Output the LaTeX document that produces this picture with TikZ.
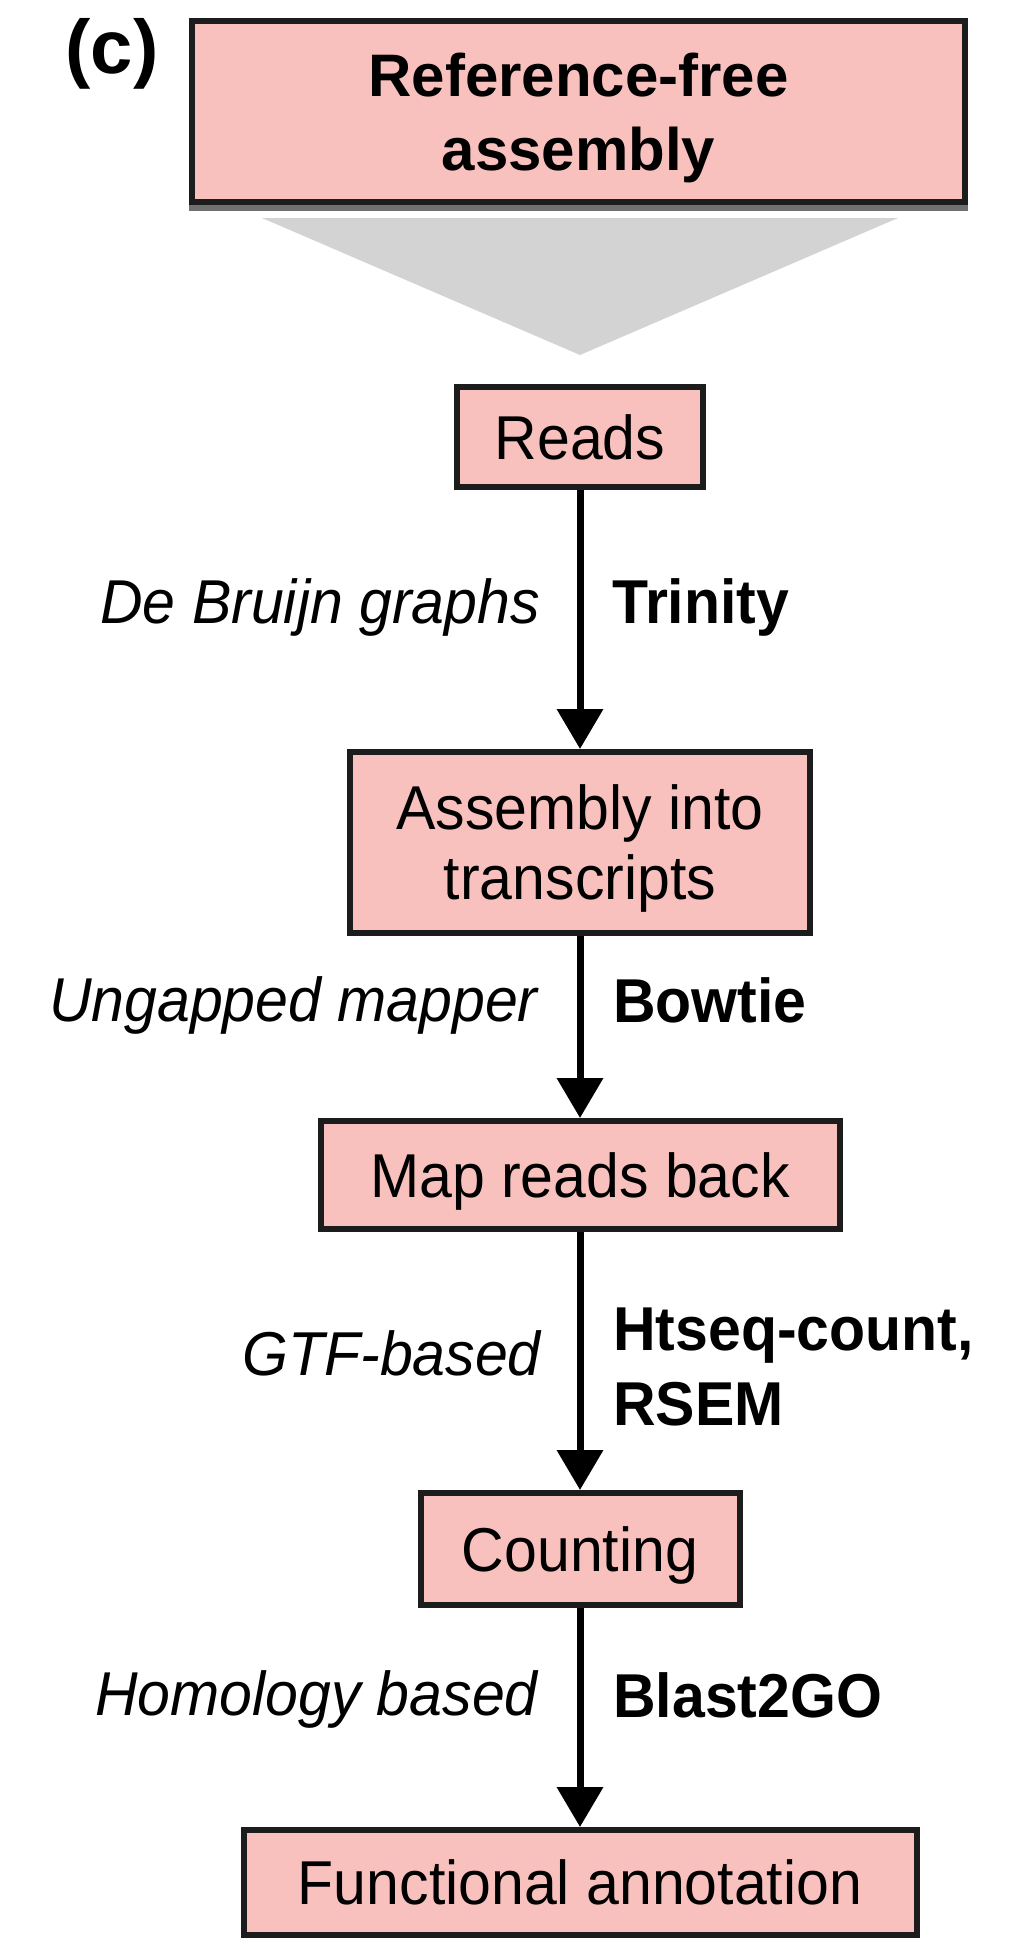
\documentclass[tikz,border=0pt]{standalone}
\usepackage{fontspec}
\setmainfont{Liberation Sans}
\usepackage{graphicx}
\usetikzlibrary{arrows.meta}

\definecolor{boxpink}{RGB}{248,193,189}
\definecolor{boxline}{RGB}{28,28,28}
\definecolor{funnelgray}{RGB}{211,211,211}
\definecolor{shadowgray}{RGB}{112,112,112}

% slightly tall lettering
\newcommand{\tl}[1]{\scalebox{1}[1.05]{#1}}

\begin{document}
\begin{tikzpicture}[x=1pt,y=1pt,
  stage/.style={draw=boxline, line width=6pt, fill=boxpink, inner sep=0pt,
                align=center, text depth=0pt, font=\fontsize{59}{70}\selectfont},
  flow/.style={draw=black, line width=7pt, -{Triangle[width=45pt,length=40pt]}},
  method/.style={font=\fontsize{59}{70}\selectfont\itshape, anchor=base east, inner sep=0pt},
  tool/.style={font=\fontsize{59}{70}\selectfont\bfseries, anchor=base west, inner sep=0pt},
]
\useasboundingbox (0,0) rectangle (1024,-1940);

% panel letter
\node[font=\fontsize{76}{80}\selectfont\bfseries, inner sep=0pt] (panel) at (112,-54) {(c)};

% header box with its shadow edge, and the funnel below it
\fill[shadowgray] (189,-200) rectangle (968,-211);
\node[stage, minimum width=773pt, minimum height=181pt,
      font=\fontsize{60}{74}\selectfont\bfseries] (head) at (578.5,-111.5)
      {Reference-free\\assembly};
\fill[funnelgray] (262,-218) -- (898,-218) -- (580,-355) -- cycle;

% pipeline stages
\node[stage, minimum width=246pt, minimum height=100pt] (reads) at (580,-437) {\tl{Reads}};
\node[stage, minimum width=460pt, minimum height=181pt] (asm) at (580,-842.5)
      {\tl{Assembly into}\\\tl{transcripts}};
\node[stage, minimum width=519pt, minimum height=108pt] (map) at (580,-1175) {\tl{Map reads back}};
\node[stage, minimum width=319pt, minimum height=112pt] (count) at (580,-1549) {\tl{Counting}};
\node[stage, minimum width=673pt, minimum height=105pt] (annot) at (580,-1882.5) {\tl{Functional annotation}};

% connectors
\draw[flow] (reads.south) -- (asm.north);
\draw[flow] (asm.south) -- (map.north);
\draw[flow] (map.south) -- (count.north);
\draw[flow] (count.south) -- (annot.north);

% step labels: approach (left) and tool (right)
\node[method] (m1) at (540,-623) {\tl{De Bruijn graphs}};
\node[tool]   (t1) at (612,-623) {\tl{Trinity}};
\node[method] (m2) at (538,-1021) {\tl{Ungapped mapper}};
\node[tool]   (t2) at (613,-1022) {\tl{Bowtie}};
\node[method] (m3) at (541,-1375) {\tl{GTF-based}};
\node[tool]   (t3a) at (613,-1350) {\tl{Htseq-count,}};
\node[tool]   (t3b) at (613,-1425) {\tl{RSEM}};
\node[method] (m4) at (538,-1715) {\tl{Homology based}};
\node[tool]   (t4) at (613,-1717) {\tl{Blast2GO}};
\end{tikzpicture}
\end{document}
